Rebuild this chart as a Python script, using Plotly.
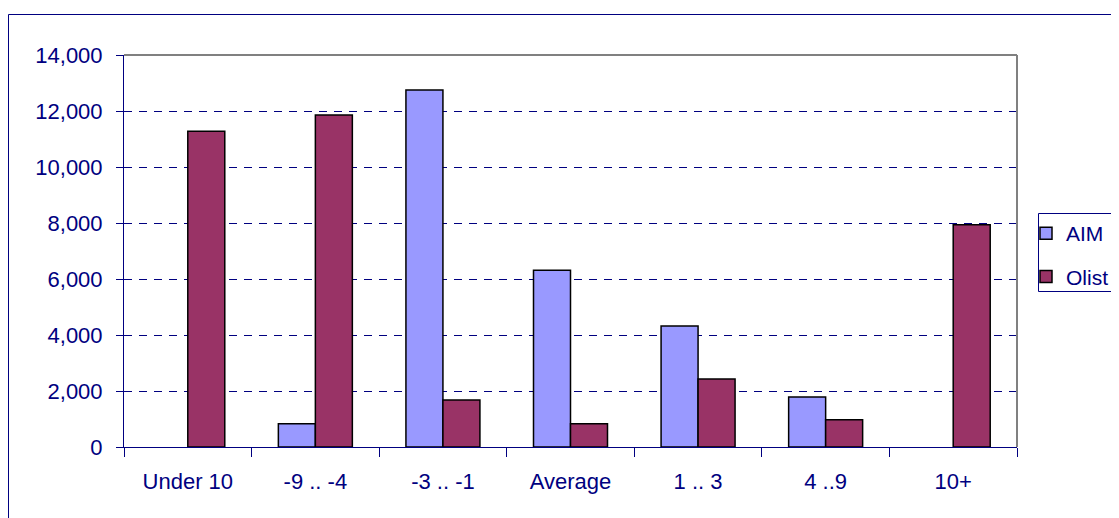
import plotly.graph_objects as go

categories = ["Under 10", "-9 .. -4", "-3 .. -1", "Average", "1 .. 3", "4 ..9", "10+"]
aim_values = [None, 830, 12750, 6310, 4320, 1790, None]
olist_values = [11280, 11860, 1680, 830, 2430, 970, 7940]
y_ticks = [0, 2000, 4000, 6000, 8000, 10000, 12000, 14000]

NAVY = "#000080"
FONT = "Liberation Sans, Arial, sans-serif"

# page body has an 8px margin: figure is placed at (8, 8)
W, H = 1140, 510
L, R, T, B = 116, 131, 47, 71
PW, PH = W - L - R, H - T - B


def px(xf):
    return (xf - L) / PW


def py(yf):
    return (H - B - yf) / PH


fig = go.Figure()
fig.add_trace(go.Bar(name="AIM", x=categories, y=aim_values,
                     marker=dict(color="#9999FF", line=dict(color="#000000", width=1.5)),
                     legendgroup="a"))
fig.add_trace(go.Bar(name="Olist", x=categories, y=olist_values,
                     marker=dict(color="#993366", line=dict(color="#000000", width=1.5)),
                     legendgroup="b"))

fig.update_layout(
    width=W, height=H,
    margin=dict(l=L, r=R, t=T, b=B, autoexpand=False),
    paper_bgcolor="white", plot_bgcolor="white",
    barmode="group", bargap=0.42, bargroupgap=0,
    font=dict(family=FONT, size=22, color=NAVY),
    showlegend=True,
    legend=dict(xref="container", yref="container",
                x=1018 / W, xanchor="left", y=1 - 205 / H, yanchor="top",
                borderwidth=0, bgcolor="rgba(0,0,0,0)",
                font=dict(family=FONT, size=21, color=NAVY),
                tracegroupgap=13, traceorder="grouped",
                itemwidth=30),
    xaxis=dict(type="category", showline=True, linecolor=NAVY, linewidth=1,
               ticks="outside", tickson="boundaries", ticklen=9, tickcolor=NAVY,
               showgrid=False, mirror=False, zeroline=False,
               tickfont=dict(family=FONT, size=22, color=NAVY),
               ticklabelstandoff=15),
    yaxis=dict(range=[0, 14000], tickvals=y_ticks, tickformat=",d",
               showline=True, linecolor=NAVY, linewidth=1,
               ticks="outside", ticklen=7, tickcolor=NAVY,
               showgrid=True, gridcolor=NAVY, gridwidth=1, griddash="8px,7px",
               zeroline=False,
               tickfont=dict(family=FONT, size=22, color=NAVY),
               ticklabelstandoff=9),
)

# plot-area border (gray, top and right)
fig.add_shape(type="line", xref="paper", yref="paper", x0=0, x1=1, y0=1, y1=1,
              line=dict(color="#808080", width=2), layer="above")
fig.add_shape(type="line", xref="paper", yref="paper", x0=1, x1=1, y0=0, y1=1,
              line=dict(color="#808080", width=2), layer="above")
# chart outer border
fig.add_shape(type="rect", xref="paper", yref="paper",
              x0=px(0.5), x1=px(W + 10), y0=py(H + 10), y1=py(6.5),
              line=dict(color=NAVY, width=1), layer="below")
# legend frame
fig.add_shape(type="rect", xref="paper", yref="paper",
              x0=px(1030.5), x1=px(W + 10), y0=py(283.5), y1=py(205.5),
              line=dict(color=NAVY, width=1), layer="above")

fig.write_html("out.html",
               post_script="document.documentElement.style.overflow='hidden';"
                           "document.body.style.overflow='hidden';")
